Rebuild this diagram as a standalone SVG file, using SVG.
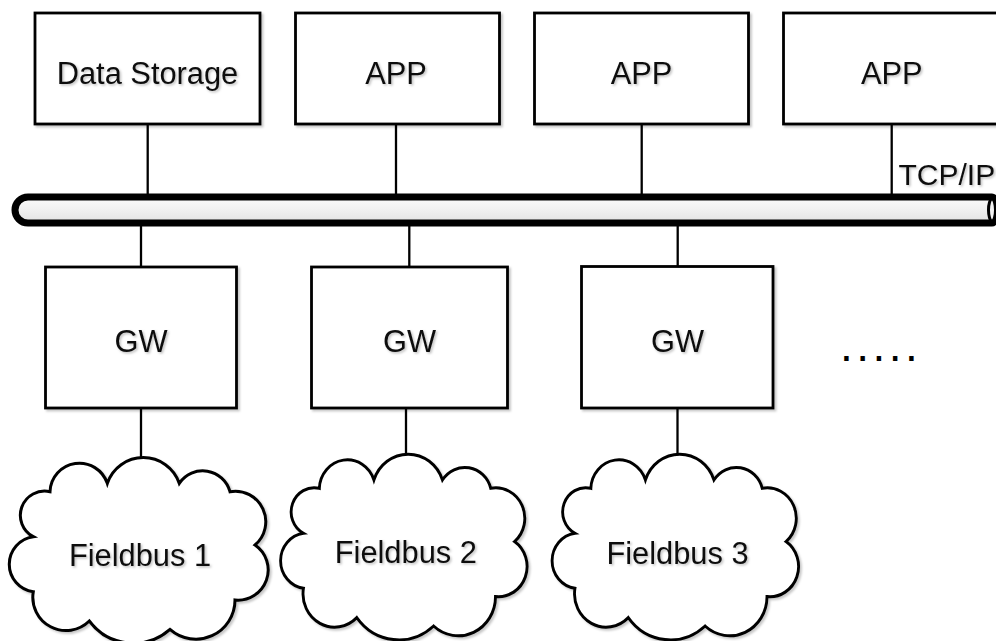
<svg xmlns="http://www.w3.org/2000/svg" width="996" height="641" viewBox="0 0 996 641">
  <defs>
    <filter id="shadow" x="-10%" y="-10%" width="125%" height="125%">
      <feDropShadow dx="2" dy="2" stdDeviation="1" flood-color="#000" flood-opacity="0.22"/>
    </filter>
    <filter id="tshadow" x="-10%" y="-20%" width="125%" height="150%">
      <feDropShadow dx="1.5" dy="1.5" stdDeviation="0.8" flood-color="#000" flood-opacity="0.25"/>
    </filter>
    <linearGradient id="pipeFill" x1="0" y1="0" x2="0" y2="1">
      <stop offset="0" stop-color="#fbfbfb"/>
      <stop offset="0.5" stop-color="#f0f0f0"/>
      <stop offset="1" stop-color="#e2e2e2"/>
    </linearGradient>
    <!-- cloud outline, origin at the top attachment point -->
    <path id="cloud" d="M -33.7 25.7 A 38 38 0 0 1 38.3 25.7 A 28.2 28.2 0 0 1 89 34 A 30.5 30.5 0 0 1 114 87.3 A 30.2 30.2 0 0 1 94 142.3 A 39.1 39.1 0 0 1 29 171.7 A 55 55 0 0 1 -51.7 163.3 A 33.2 33.2 0 0 1 -107.7 134 A 27.75 27.75 0 0 1 -107.7 79 A 24.2 24.2 0 0 1 -91 34 A 29.4 29.4 0 0 1 -33.7 25.7 Z"/>
  </defs>
  <style>
    .box { fill: #fff; stroke: #000; stroke-width: 2.8; filter: url(#shadow); }
    .cloud { fill: #fff; stroke: #000; stroke-width: 3; filter: url(#shadow); }
    .link { stroke: #000; stroke-width: 2.3; fill: none; }
    .lbl { font-family: "Liberation Sans", Arial, sans-serif; font-size: 30.8px; fill: #111; text-anchor: middle; filter: url(#tshadow); }
  </style>

  <rect width="996" height="641" fill="#fff"/>

  <!-- connectors -->
  <g id="connectors">
    <line class="link" x1="147.7" y1="124" x2="147.7" y2="195"/>
    <line class="link" x1="396" y1="124" x2="396" y2="195"/>
    <line class="link" x1="641.7" y1="124" x2="641.7" y2="195"/>
    <line class="link" x1="891.7" y1="124" x2="891.7" y2="195"/>
    <line class="link" x1="141" y1="225" x2="141" y2="267"/>
    <line class="link" x1="409.3" y1="225" x2="409.3" y2="267"/>
    <line class="link" x1="677.7" y1="225" x2="677.7" y2="267"/>
    <line class="link" x1="141" y1="408" x2="141" y2="458"/>
    <line class="link" x1="406" y1="408" x2="406" y2="455"/>
    <line class="link" x1="677.5" y1="408" x2="677.5" y2="455"/>
  </g>

  <!-- TCP/IP backbone -->
  <g id="backbone">
    <path d="M 28 197 H 992 A 5 13 0 0 1 992 223 H 28 A 13 13 0 0 1 28 197 Z" fill="url(#pipeFill)" stroke="#000" stroke-width="7"/>
    <ellipse cx="992" cy="210" rx="3.5" ry="11" fill="#f4f4f4" stroke="#000" stroke-width="3"/>
    <text class="lbl" x="898.5" y="185" style="text-anchor:start;font-size:30px">TCP/IP</text>
  </g>

  <!-- upper tier -->
  <g id="data-storage">
    <rect class="box" x="35" y="13" width="225" height="111"/>
    <text class="lbl" x="147.5" y="83.5">Data Storage</text>
  </g>
  <g id="app-1">
    <rect class="box" x="295.5" y="13" width="204" height="111"/>
    <text class="lbl" x="396" y="83.5">APP</text>
  </g>
  <g id="app-2">
    <rect class="box" x="534.5" y="13" width="214" height="111"/>
    <text class="lbl" x="641.5" y="83.5">APP</text>
  </g>
  <g id="app-3">
    <rect class="box" x="783.5" y="13" width="216" height="111"/>
    <text class="lbl" x="891.7" y="83.5">APP</text>
  </g>

  <!-- gateways -->
  <g id="gw-1">
    <rect class="box" x="45.5" y="267" width="191" height="141"/>
    <text class="lbl" x="141" y="352">GW</text>
  </g>
  <g id="gw-2">
    <rect class="box" x="311.5" y="267" width="196" height="141"/>
    <text class="lbl" x="409.5" y="352">GW</text>
  </g>
  <g id="gw-3">
    <rect class="box" x="581.5" y="266.5" width="191.5" height="141.5"/>
    <text class="lbl" x="677.5" y="351.5">GW</text>
  </g>

  <g id="more">
    <text x="840" y="361" style="font-family:'Liberation Sans', Arial, sans-serif; font-size:46px; letter-spacing:3.5px; fill:#000">.....</text>
  </g>

  <!-- fieldbus segments -->
  <g id="fieldbus-1">
    <use href="#cloud" class="cloud" transform="translate(141,457.7)"/>
    <text class="lbl" x="140" y="566">Fieldbus 1</text>
  </g>
  <g id="fieldbus-2">
    <use href="#cloud" class="cloud" transform="translate(406,454.3) scale(0.952,1)"/>
    <text class="lbl" x="405.8" y="563">Fieldbus 2</text>
  </g>
  <g id="fieldbus-3">
    <use href="#cloud" class="cloud" transform="translate(677.5,454.3) scale(0.952,1)"/>
    <text class="lbl" x="677.5" y="563.5">Fieldbus 3</text>
  </g>
</svg>
